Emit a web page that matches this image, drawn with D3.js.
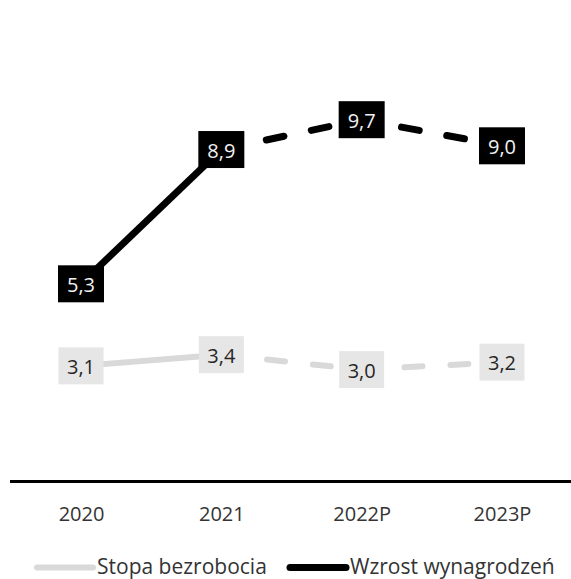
<!DOCTYPE html>
<html>
<head>
<meta charset="utf-8">
<script src="https://cdn.jsdelivr.net/npm/d3@7/dist/d3.min.js"></script>
<style>
  html, body { margin: 0; padding: 0; background: #ffffff; }
  svg { display: block; font-family: "Open Sans", "Noto Sans", sans-serif; }
</style>
</head>
<body>
<svg id="chart" width="571" height="579"></svg>
<script>
const categories = ["2020", "2021", "2022P", "2023P"];
const unemployment = [3.1, 3.4, 3.0, 3.2];
const wages = [5.3, 8.9, 9.7, 9.0];
const seriesNames = ["Stopa bezrobocia", "Wzrost wynagrodzeń"];
const forecastFrom = 1; // dashed from 2021 onward

const W = 571, H = 579;
const svg = d3.select("#chart");

const x = d3.scalePoint().domain(categories).range([81, 502]);
const y = d3.scaleLinear().domain([0, 12]).range([481.5, 33.9]);

const series = [
  { name: seriesNames[0], values: unemployment, color: "#d9d9d9", width: 6,
    boxFill: "#e6e6e6", textFill: "#262626", boxW: 45 },
  { name: seriesNames[1], values: wages, color: "#000000", width: 7,
    boxFill: "#000000", textFill: "#f2f2f2", boxW: 46 }
];

const line = d3.line().x(d => x(d.cat)).y(d => y(d.v));

series.forEach(s => {
  const pts = s.values.map((v, i) => ({ cat: categories[i], v }));
  const g = svg.append("g");
  g.append("path")
    .datum(pts.slice(0, forecastFrom + 1))
    .attr("d", line)
    .attr("fill", "none")
    .attr("stroke", s.color)
    .attr("stroke-width", s.width)
    .attr("stroke-linecap", "butt");
  g.append("path")
    .datum(pts.slice(forecastFrom))
    .attr("d", line)
    .attr("fill", "none")
    .attr("stroke", s.color)
    .attr("stroke-width", s.width)
    .attr("stroke-linecap", "round")
    .attr("stroke-dasharray", "18 28");
  const lab = g.selectAll("g.lab").data(pts).enter().append("g")
    .attr("transform", d => `translate(${x(d.cat)},${y(d.v)})`);
  lab.append("rect")
    .attr("x", -s.boxW / 2).attr("y", -18.5)
    .attr("width", s.boxW).attr("height", 37)
    .attr("fill", s.boxFill);
  lab.append("text")
    .attr("text-anchor", "middle")
    .attr("y", 8)
    .attr("font-size", 20)
    .attr("fill", s.textFill)
    .text(d => d.v.toFixed(1).replace(".", ","));
});

// axis
const axisG = svg.append("g").attr("transform", `translate(0,${y(0)})`)
  .call(d3.axisBottom(x).tickSize(0).tickPadding(0));
axisG.select(".domain").remove();
axisG.selectAll(".tick text")
  .attr("y", 39.5).attr("dy", null)
  .attr("font-size", 20)
  .attr("font-family", "'Open Sans', sans-serif")
  .attr("fill", "#333333");
svg.append("line")
  .attr("x1", 10).attr("x2", W)
  .attr("y1", y(0)).attr("y2", y(0))
  .attr("stroke", "#000").attr("stroke-width", 3);

// legend
const legendPos = [{ lx: 35, tx: 97 }, { lx: 288, tx: 350 }];
series.forEach((s, i) => {
  const p = legendPos[i];
  svg.append("line")
    .attr("x1", p.lx + 2).attr("x2", p.lx + 58)
    .attr("y1", 567.5).attr("y2", 567.5)
    .attr("stroke", s.color).attr("stroke-width", s.width)
    .attr("stroke-linecap", "round");
  svg.append("text")
    .attr("x", p.tx).attr("y", 574)
    .attr("font-size", 21)
    .attr("fill", "#333333")
    .text(s.name);
});
</script>
</body>
</html>
